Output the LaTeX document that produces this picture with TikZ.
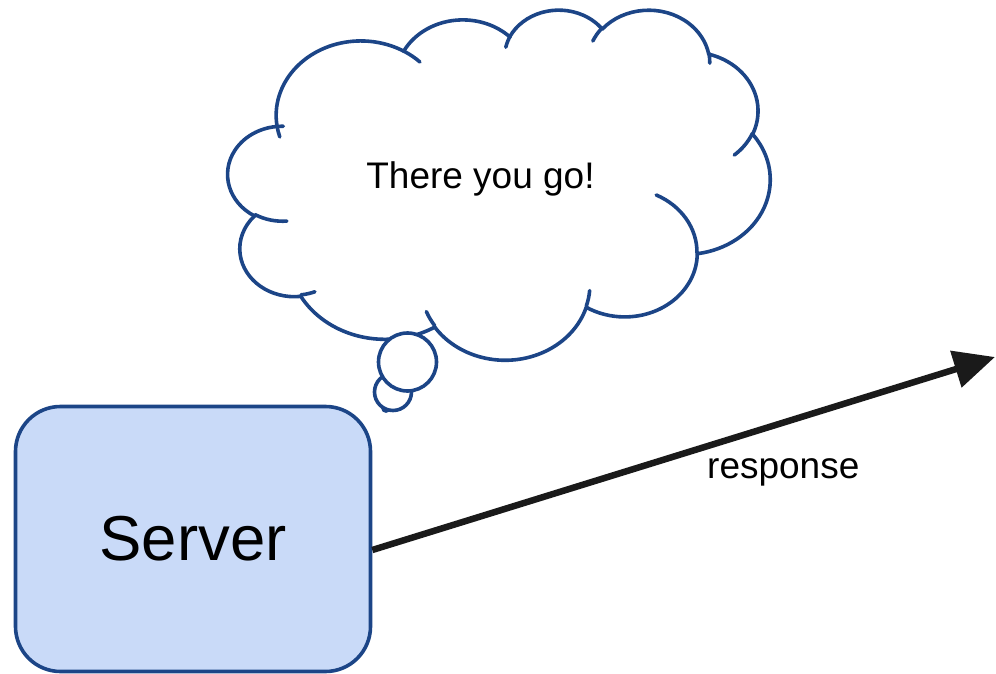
\documentclass[tikz,border=0pt]{standalone}
\usepackage{fontspec}
\setmainfont{Liberation Sans}
\usepackage{tikz}
\usetikzlibrary{positioning, arrows.meta}
\definecolor{serverfill}{HTML}{C9DAF8}
\definecolor{serverline}{HTML}{1C4587}
\definecolor{arrowink}{HTML}{1A1A1A}

\begin{document}
\begin{tikzpicture}[
    x=1pt, y=-1pt,
    box/.style={rectangle, draw=serverline, fill=serverfill, line width=3.6pt, rounded corners=45pt, minimum width=355pt, minimum height=265pt, text centered, font=\fontsize{63.5}{76}\selectfont},
    cloudline/.style={draw=serverline, line width=3.6pt, line cap=round},
    puff/.style={circle, draw=serverline, fill=white, line width=3.6pt, inner sep=0pt},
    arrow/.style={-{Triangle[length=41pt, width=37pt]}, line width=6.5pt, draw=arrowink},
    lbl/.style={font=\fontsize{37}{44}\selectfont}
]
    \useasboundingbox (0,0) rectangle (996,674);

    \begin{scope}[shift={(228,9)}, x=1.25463pt, y=-0.810185pt]
        \coordinate (cl) at (39.00,143.70);
        \foreach \wr/\hr/\st/\sw in {67.53/91.90/-190.4875/123.7805, 53.33/72.67/-144.1024/89.9452,
                43.65/59.45/-145.8079/99.7230, 48.57/65.95/-130.9861/117.2417,
                53.33/72.73/-78.7089/109.0269, 67.75/92.20/-46.2673/130.2690,
                57.85/78.67/0.6250/114.0333, 67.52/92.15/22.4516/115.1726,
                77.20/105.43/66.2426/75.7110, 43.60/59.18/-274.9421/146.7356,
                43.45/59.45/-246.8285/157.7988}{
            \pgfmathsetmacro{\ta}{atan2(\wr*sin(\st), \hr*cos(\st))}
            \pgfmathsetmacro{\tb}{atan2(\wr*sin(\st+\sw), \hr*cos(\st+\sw))}
            \pgfmathsetmacro{\tb}{\ta+mod(\tb-\ta+720,360)}
            \draw[cloudline] (cl) arc[start angle=\ta, end angle=\tb, x radius=\wr, y radius=\hr] coordinate (cl);
        }
        \foreach \px/\py/\wr/\hr/\st/\sw in {46.93/261.77/43.45/59.45/86.7420/26.4295,
                69.28/348.99/43.60/59.18/73.6105/11.4475, 164.78/390.90/67.52/92.15/137.6242/14.0811,
                288.27/347.51/67.52/92.15/6.4533/15.9984, 341.29/229.54/57.85/78.67/-70.2924/70.9174,
                417.98/153.54/53.33/72.73/30.3180/27.7515, 383.24/54.26/48.57/65.95/-13.7443/14.8589,
                290.78/39.52/48.57/65.95/-149.1815/18.1954, 221.41/47.20/43.65/59.45/-163.4943/17.6925,
                140.00/51.92/67.53/91.90/-66.7070/12.3194, 41.27/157.89/67.53/91.90/157.6544/11.8582}{
            \pgfmathsetmacro{\ta}{atan2(\wr*sin(\st), \hr*cos(\st))}
            \pgfmathsetmacro{\tb}{atan2(\wr*sin(\st+\sw), \hr*cos(\st+\sw))}
            \pgfmathsetmacro{\tb}{\ta+mod(\tb-\ta+720,360)}
            \draw[cloudline] (\px,\py) arc[start angle=\ta, end angle=\tb, x radius=\wr, y radius=\hr];
        }
    \end{scope}

    \node[puff, minimum size=6pt] (dot) at (386,408) {};
    \node[puff, minimum size=37pt] (puffsmall) at (393,392) {};
    \node[puff, minimum size=58pt] (puffbig) at (407.5,362) {};
    \node[lbl, anchor=base] (thought) at (480.5,188) {There you go!};

    \node[box] (server) at (193,539) {Server};
    \coordinate (tip) at (995,357);

    \draw[arrow] ([yshift=-11pt]server.east) -- node[lbl, pos=0.66, below=29pt] (resp) {response} (tip);
\end{tikzpicture}
\end{document}
